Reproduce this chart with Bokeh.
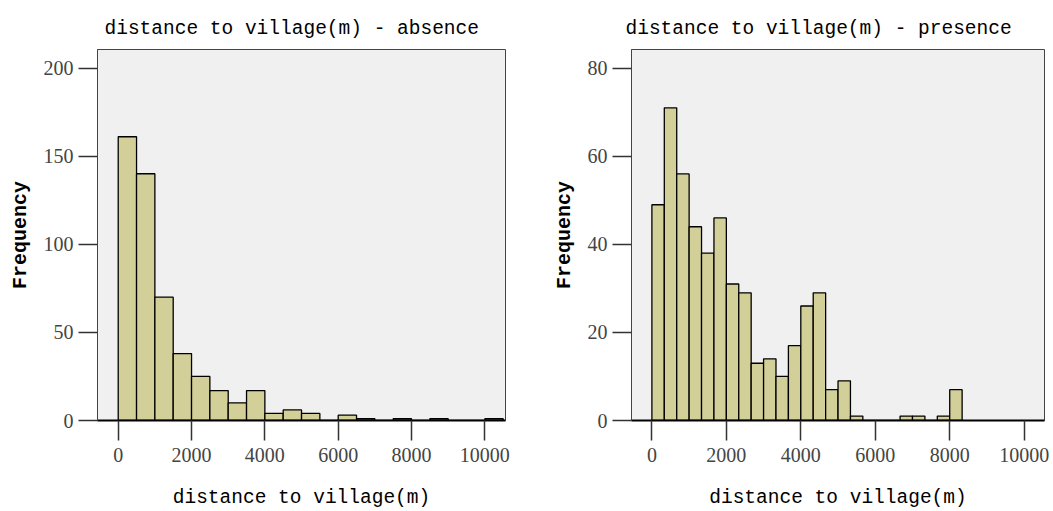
from bokeh.plotting import figure
from bokeh.layouts import row
from bokeh.models import FixedTicker, Range1d, Title
from bokeh.embed import file_html
from bokeh.resources import INLINE

# ---- data ----
absence_bin_width = 500
absence_counts = [161, 140, 70, 38, 25, 17, 10, 17, 4, 6, 4, 0, 3, 1, 0, 1, 0, 1, 0, 0, 1]

presence_bin_width = 10000 / 30
presence_counts = [49, 71, 56, 44, 38, 46, 31, 29, 13, 14, 10, 17, 26, 29, 7, 9, 1,
                   0, 0, 0, 1, 1, 0, 1, 7]

x_ticks = [0, 2000, 4000, 6000, 8000, 10000]
absence_y_ticks = [0, 50, 100, 150, 200]
presence_y_ticks = [0, 20, 40, 60, 80]

titles = ["distance to village(m) - absence", "distance to village(m) - presence"]
x_label = "distance to village(m)"
y_label = "Frequency"

BAR_FILL = "#d3cf98"
BG = "#f0f0f0"
TITLE_FONT = "Liberation Mono"
TICK_FONT = "Liberation Serif"


def make_hist(counts, bw, yticks, ymax, xr, width, bl, br, title, title_offset):
    p = figure(width=width, height=511, output_backend="svg", toolbar_location=None,
               x_range=Range1d(*xr), y_range=Range1d(0, ymax),
               min_border_left=bl, min_border_right=br, min_border_top=49,
               min_border_bottom=91, background_fill_color=BG,
               border_fill_color="white")
    left = [i * bw for i in range(len(counts))]
    right = [(i + 1) * bw for i in range(len(counts))]
    p.quad(left=left, right=right, bottom=0, top=counts, fill_color=BAR_FILL,
           line_color="black", line_width=1.3)
    p.grid.visible = False
    p.outline_line_color = "#444444"
    p.outline_line_width = 1

    t = Title(text=title, align="left", offset=title_offset,
              text_font=TITLE_FONT, text_font_size="19.5px",
              text_font_style="normal", text_color="black", standoff=19)
    p.add_layout(t, "above")

    xa = p.xaxis[0]
    xa.ticker = FixedTicker(ticks=x_ticks)
    xa.minor_tick_line_color = None
    xa.major_tick_out = 20
    xa.major_tick_in = 0
    xa.major_tick_line_color = "#333333"
    xa.major_tick_line_width = 1.5
    xa.axis_line_color = "black"
    xa.axis_line_width = 2
    xa.major_label_text_font = TICK_FONT
    xa.major_label_text_font_size = "20px"
    xa.major_label_text_color = "#444444"
    xa.major_label_standoff = 7
    xa.axis_label = x_label
    xa.axis_label_text_font = TITLE_FONT
    xa.axis_label_text_font_size = "19.5px"
    xa.axis_label_text_font_style = "normal"
    xa.axis_label_text_color = "black"
    xa.axis_label_standoff = 22

    ya = p.yaxis[0]
    ya.ticker = FixedTicker(ticks=yticks)
    ya.minor_tick_line_color = None
    ya.major_tick_out = 19
    ya.major_tick_in = 0
    ya.major_tick_line_color = "#333333"
    ya.major_tick_line_width = 1.5
    ya.axis_line_color = "#444444"
    ya.axis_line_width = 1
    ya.major_label_text_font = TICK_FONT
    ya.major_label_text_font_size = "20px"
    ya.major_label_text_color = "#444444"
    ya.major_label_standoff = 5
    ya.axis_label = y_label
    ya.axis_label_text_font = TITLE_FONT
    ya.axis_label_text_font_size = "20px"
    ya.axis_label_text_font_style = "bold"
    ya.axis_label_text_color = "black"
    ya.axis_label_standoff = 9
    return p


p1 = make_hist(absence_counts, absence_bin_width, absence_y_ticks, 210.5,
               (-565, 10563), 526, 97, 21, titles[0], 7)
p2 = make_hist(presence_counts, presence_bin_width, presence_y_ticks, 84.25,
               (-548, 10546), 527, 105, 9, titles[1], -6)

layout = row(p1, p2)
open("out.html", "w").write(file_html(layout, INLINE))
